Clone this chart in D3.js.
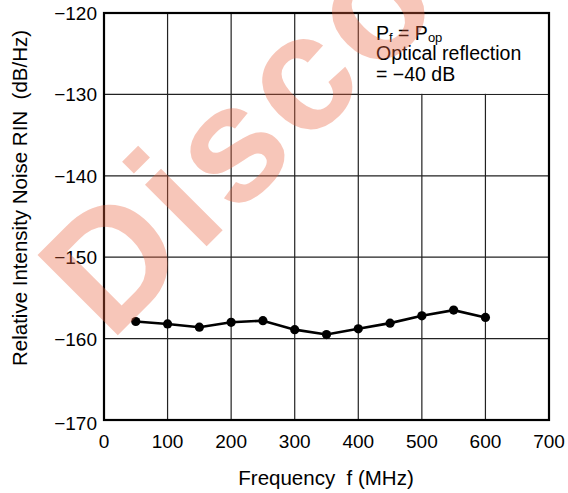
<!DOCTYPE html>
<html>
<head>
<meta charset="utf-8">
<script src="https://cdn.jsdelivr.net/npm/d3@7"></script>
<style>
  body { margin: 0; background: #fff; }
  text { font-family: "Liberation Sans", Arial, sans-serif; fill: #000; }
</style>
</head>
<body>
<div id="chart"></div>
<script>
var W = 568, H = 493;

// data
var freqs = [50, 100, 150, 200, 250, 300, 350, 400, 450, 500, 550, 600];
var rin = [-157.9, -158.2, -158.6, -158.0, -157.8, -158.9, -159.5, -158.8, -158.1, -157.2, -156.5, -157.4];
var xTicks = [0, 100, 200, 300, 400, 500, 600, 700];
var yTicks = [-120, -130, -140, -150, -160, -170];

var pLeft = 104, pRight = 549, pTop = 13, pBottom = 420;

var svg = d3.select('#chart').append('svg')
  .attr('width', W)
  .attr('height', H);

var x = d3.scaleLinear().domain([0, 700]).range([pLeft, pRight]);
var y = d3.scaleLinear().domain([-170, -120]).range([pBottom, pTop]);

// grid
svg.append('g').selectAll('line')
  .data(xTicks.slice(1, -1))
  .enter().append('line')
  .attr('x1', function(d) { return x(d); })
  .attr('x2', function(d) { return x(d); })
  .attr('y1', pTop).attr('y2', pBottom)
  .attr('stroke', '#222').attr('stroke-width', 1.2);

svg.append('g').selectAll('line')
  .data(yTicks.slice(1, -1))
  .enter().append('line')
  .attr('x1', pLeft).attr('x2', pRight)
  .attr('y1', function(d) { return y(d); })
  .attr('y2', function(d) { return y(d); })
  .attr('stroke', '#222').attr('stroke-width', 1.2);

// note box hides the grid behind it
svg.append('rect')
  .attr('x', x(400) + 1).attr('y', pTop)
  .attr('width', pRight - x(400) - 1).attr('height', y(-130) - pTop - 0.6)
  .attr('fill', '#fff');

// frame
svg.append('rect')
  .attr('x', pLeft).attr('y', pTop)
  .attr('width', pRight - pLeft).attr('height', pBottom - pTop)
  .attr('fill', 'none').attr('stroke', '#000').attr('stroke-width', 2.2);

// tick labels
svg.append('g').selectAll('text')
  .data(xTicks)
  .enter().append('text')
  .attr('x', function(d) { return x(d); })
  .attr('y', 448)
  .attr('text-anchor', 'middle')
  .attr('font-size', 19)
  .text(function(d) { return d; });

svg.append('g').selectAll('text')
  .data(yTicks)
  .enter().append('text')
  .attr('x', 97)
  .attr('y', function(d) { return y(d) + 7 + (d === -170 ? 3 : 0); })
  .attr('text-anchor', 'end')
  .attr('font-size', 19)
  .text(function(d) { return '\u2212' + Math.abs(d); });

// axis titles
svg.append('text')
  .attr('x', 326).attr('y', 485)
  .attr('text-anchor', 'middle')
  .attr('font-size', 20.5)
  .style('white-space', 'pre')
  .text('Frequency  f (MHz)');

svg.append('text')
  .attr('transform', 'translate(27,198) rotate(-90)')
  .attr('text-anchor', 'middle')
  .attr('font-size', 20.5)
  .style('white-space', 'pre')
  .text('Relative Intensity Noise RIN  (dB/Hz)');

// note
var note = svg.append('g').attr('font-size', 19.5);
var l1 = note.append('text').attr('x', 376).attr('y', 40);
l1.append('tspan').text('P');
l1.append('tspan').attr('font-size', 13).attr('dy', 2).text('f');
l1.append('tspan').attr('dy', -2).text(' = P');
l1.append('tspan').attr('font-size', 13).attr('dy', 2).text('op');
note.append('text').attr('x', 376).attr('y', 60).text('Optical reflection');
note.append('text').attr('x', 376).attr('y', 81).text('= \u221240 dB');

// series
var line = d3.line()
  .x(function(d, i) { return x(freqs[i]); })
  .y(function(d) { return y(d); });

svg.append('path')
  .datum(rin)
  .attr('d', line)
  .attr('fill', 'none')
  .attr('stroke', '#000')
  .attr('stroke-width', 2.6);

svg.append('g').selectAll('circle')
  .data(rin)
  .enter().append('circle')
  .attr('cx', function(d, i) { return x(freqs[i]); })
  .attr('cy', function(d) { return y(d); })
  .attr('r', 4.6)
  .attr('fill', '#000');

// watermark
svg.append('text')
  .attr('transform', 'translate(110,343) rotate(-45)')
  .attr('font-size', 165)
  .attr('font-weight', 'bold')
  .attr('letter-spacing', 6)
  .style('fill', '#e8603c')
  .style('fill-opacity', 0.36)
  .text('Discontinued');
</script>
</body>
</html>
